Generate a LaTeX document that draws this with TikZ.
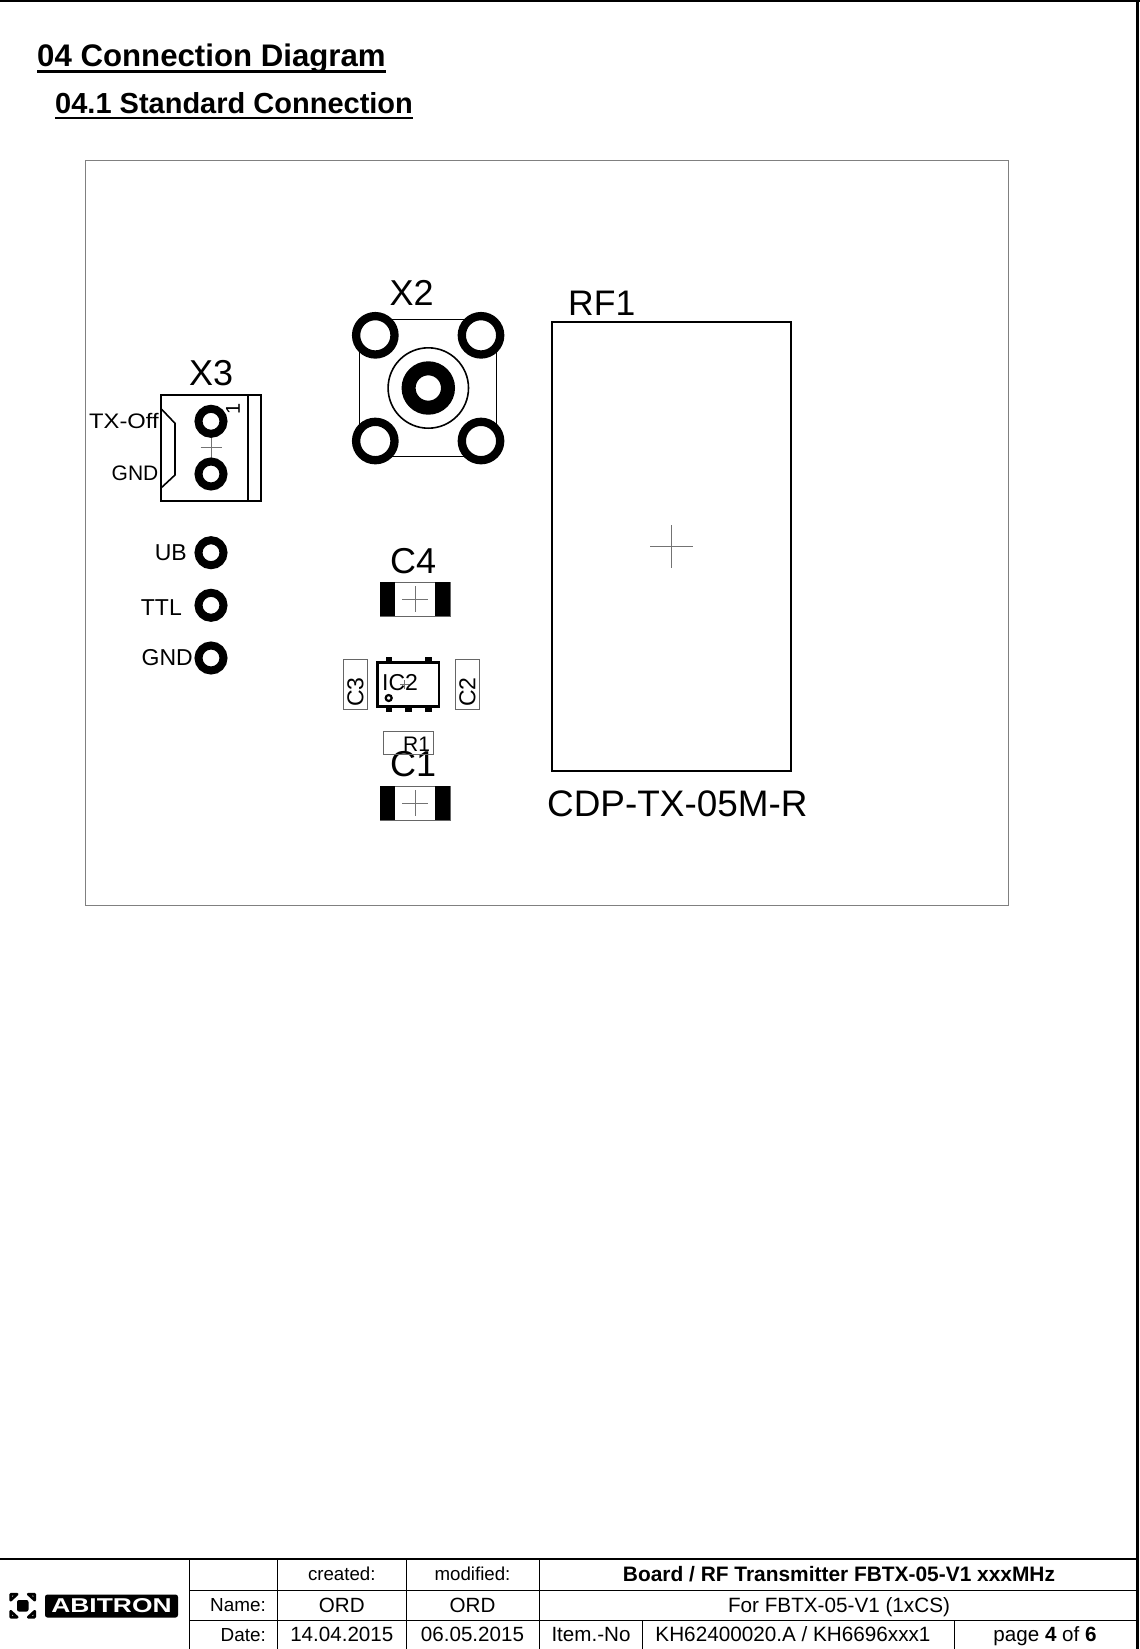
\documentclass[tikz,border=0pt]{standalone}
\usepackage{fontspec}
\setmainfont{Liberation Sans}
\newcommand{\pxfont}[1]{\fontsize{#1}{#1}\selectfont}
\tikzset{
	lbl/.style={inner sep=0pt, anchor=base west},
	lblmid/.style={inner sep=0pt, anchor=base},
	lblend/.style={inner sep=0pt, anchor=base east},
	pad/.style={circle, draw, fill=white, line width=8pt, inner sep=0pt, minimum size=25pt},
	bigpad/.style={circle, draw, fill=white, line width=8.3pt, inner sep=0pt, minimum size=38.4pt},
	crossline/.style={draw=black!55, line width=0.8pt},
	thinbox/.style={draw=black!60, line width=0.9pt},
	cellline/.style={line width=1pt},
}
\begin{document}
\begin{tikzpicture}[x=1pt,y=-1pt]
		\useasboundingbox (0,0) rectangle (1140,1649);

		% Page edges
		\draw[line width=2pt] (0,1) -- (1140,1);
		\draw[line width=3.5pt] (1137.5,0) -- (1137.5,1649);

		% Headings
		\node[lbl, font=\pxfont{31.2}\bfseries] (head) at (37,66.5) {04 Connection Diagram};
		\node[lbl, font=\pxfont{29}\bfseries] (subhead) at (55,113.5) {04.1 Standard Connection};
		\draw[line width=2.5pt] ([yshift=-5pt]head.base west) -- ([yshift=-5pt]head.base east);
		\draw[line width=2.5pt] ([yshift=-4.5pt]subhead.base west) -- ([yshift=-4.5pt]subhead.base east);

		% Board outline
		\draw[draw=black!50, line width=1pt] (85.5,160) rectangle (1008,905.5);

		% Connector X3
		\node[lbl, font=\pxfont{36}] (x3name) at (189,385) {X3};
		\draw[line width=2pt] (160.7,395) rectangle (261.3,500.7);
		\draw[line width=2pt] (248.3,395) -- (248.3,500.7);
		\draw[line width=1.6pt] (160.7,408.3) -- (175,423.3) -- (175,475) -- (160.7,488.3);
		\draw[crossline] (200.5,447.7) -- (221.5,447.7);
		\draw[crossline] (211,421) -- (211,474);
		\node[pad] (x3top) at (211,421.3) {};
		\node[pad] (x3bot) at (211,474) {};
		\node[inner sep=0pt, rotate=90, font=\pxfont{20}] (x3pin) at (233,409) {1};
		\node[lbl, font=\pxfont{21}] (txoff) at (89,428) {\scalebox{1.13}[1]{TX-Off}};
		\node[lbl, font=\pxfont{21}] (x3gnd) at (111.5,480) {GND};

		% Connector X2
		\node[lbl, font=\pxfont{36}] (x2name) at (389.5,305) {X2};
		\draw[line width=1.4pt] (359.3,319.3) rectangle (496.7,456.7);
		\draw[line width=1.6pt] (428.3,388) circle (40.2);
		\node[circle, draw, fill=white, line width=14pt, inner sep=0pt, minimum size=39.4pt] (x2core) at (428.3,388) {};
		\foreach \i/\px/\py in {1/375.3/335.3, 2/481/335.3, 3/375.3/441, 4/481/441}
			\node[bigpad] (x2pad\i) at (\px,\py) {};

		% Single pads
		\node[pad] (ubpad) at (211,552.7) {};
		\node[pad] (ttlpad) at (211,605.3) {};
		\node[pad] (gndpad) at (211,658) {};
		\node[lblend, font=\pxfont{23}] (ub) at (187,560) {UB};
		\node[lblend, font=\pxfont{23}] (ttl) at (182,615) {TTL};
		\node[lblend, font=\pxfont{23}] (gnd) at (193,665) {GND};

		% Capacitors C4 and C1
		\node[lbl, font=\pxfont{36}] (c4name) at (390,573.3) {C4};
		\node[lbl, font=\pxfont{36}] (c1name) at (390,776.7) {C1};
		\foreach \cy in {599,803.3} {
			\draw[thinbox] (380,\cy-17) rectangle (450,\cy+17);
			\fill (380,\cy-17) rectangle (395.3,\cy+17);
			\fill (434.7,\cy-17) rectangle (450,\cy+17);
			\draw[crossline] (402.3,\cy) -- (427.7,\cy);
			\draw[crossline] (415,\cy-13) -- (415,\cy+13);
		}

		% IC2 with its pins
		\foreach \px in {389,428.3}
			\fill (\px-3.3,656.7) rectangle (\px+3.3,662.3);
		\foreach \px in {389,408.7,428.3}
			\fill (\px-3.3,706.7) rectangle (\px+3.3,712.3);
		\draw[line width=2.8pt] (377.7,662.3) rectangle (439,706.7);
		\draw[line width=2.2pt] (388.7,698) circle (3);
		\draw[crossline] (400,684.5) -- (409,684.5);
		\draw[crossline] (404.5,680) -- (404.5,689);
		\node[lbl, font=\pxfont{23}] (ic2name) at (382,690) {IC2};

		% Small parts C3, C2, R1
		\draw[thinbox] (343.7,659.3) rectangle (367.7,709.3);
		\draw[thinbox] (455.7,659.3) rectangle (479,709.3);
		\draw[thinbox] (383.3,731.7) rectangle (433.3,754.7);
		\node[inner sep=0pt, rotate=90, font=\pxfont{23}] (c3name) at (355.5,692) {C3};
		\node[inner sep=0pt, rotate=90, font=\pxfont{23}] (c2name) at (467.5,692) {C2};
		\node[lbl, font=\pxfont{21}] (r1name) at (403,751.7) {R1};

		% Module RF1
		\node[lbl, font=\pxfont{35.5}] (rfname) at (568,315.7) {RF1};
		\draw[line width=2pt] (552,322) rectangle (791,771);
		\draw[crossline] (650,546.3) -- (693,546.3);
		\draw[crossline] (671.5,525) -- (671.5,568);
		\node[lbl, font=\pxfont{36.9}] (rftype) at (547,816.5) {CDP-TX-05M-R};

		% Footer table
		\draw[line width=2pt] (0,1559) -- (1137,1559);
		\draw[cellline] (189.5,1590) -- (1137,1590);
		\draw[cellline] (189.5,1620) -- (1137,1620);
		\foreach \cx in {189.5,277.6,406}
			\draw[cellline] (\cx,1559) -- (\cx,1649);
		\draw[cellline] (539,1559) -- (539,1649);
		\draw[cellline] (642.5,1620) -- (642.5,1649);
		\draw[cellline] (954,1620) -- (954,1649);

		% Footer texts
		\node[lblmid, font=\pxfont{18.7}] (created) at (341.8,1580.5) {created:};
		\node[lblmid, font=\pxfont{18.7}] (modified) at (472.5,1580.5) {modified:};
		\node[lblmid, font=\pxfont{20.9}\bfseries] (title) at (839,1581) {Board / RF Transmitter FBTX-05-V1 xxxMHz};
		\node[lblend, font=\pxfont{18.9}] (namelbl) at (266,1611.5) {Name:};
		\node[lblmid, font=\pxfont{20.6}] (name1) at (341.8,1612) {ORD};
		\node[lblmid, font=\pxfont{20.6}] (name2) at (472.5,1612) {ORD};
		\node[lblmid, font=\pxfont{20.7}] (forlbl) at (839,1612) {For FBTX-05-V1 (1xCS)};
		\node[lblend, font=\pxfont{18.9}] (datelbl) at (266,1641) {Date:};
		\node[lblmid, font=\pxfont{20.6}] (date1) at (341.8,1641.5) {14.04.2015};
		\node[lblmid, font=\pxfont{20.6}] (date2) at (472.5,1641.5) {06.05.2015};
		\node[lblmid, font=\pxfont{20.6}] (item) at (591,1641.5) {Item.-No};
		\node[lblmid, font=\pxfont{20.7}] (itemno) at (793,1641.5) {KH62400020.A / KH6696xxx1};
		\node[lblmid, font=\pxfont{20.6}] (pagelbl) at (1045,1641.5) {page \textbf{4} of \textbf{6}};

		% Logo
		\node[fill=black, rounded corners=2.5pt, minimum width=133pt, minimum height=23pt, inner sep=0pt, text=white, font=\pxfont{20}\bfseries] (logo) at (111.5,1606) {\scalebox{1.32}[1]{ABITRON}};
		\fill[rounded corners=2pt] (17,1600) rectangle (28.5,1611.5);
		\foreach \sx/\sy in {-1/-1,1/-1,-1/1,1/1}
			\draw[line width=2.6pt, line join=round, xshift=22.7pt, yshift=-1605.7pt, xscale=\sx, yscale=\sy] (5.5,11.5) -- (12,11.5) -- (12,5.5) -- cycle;
\end{tikzpicture}
\end{document}
